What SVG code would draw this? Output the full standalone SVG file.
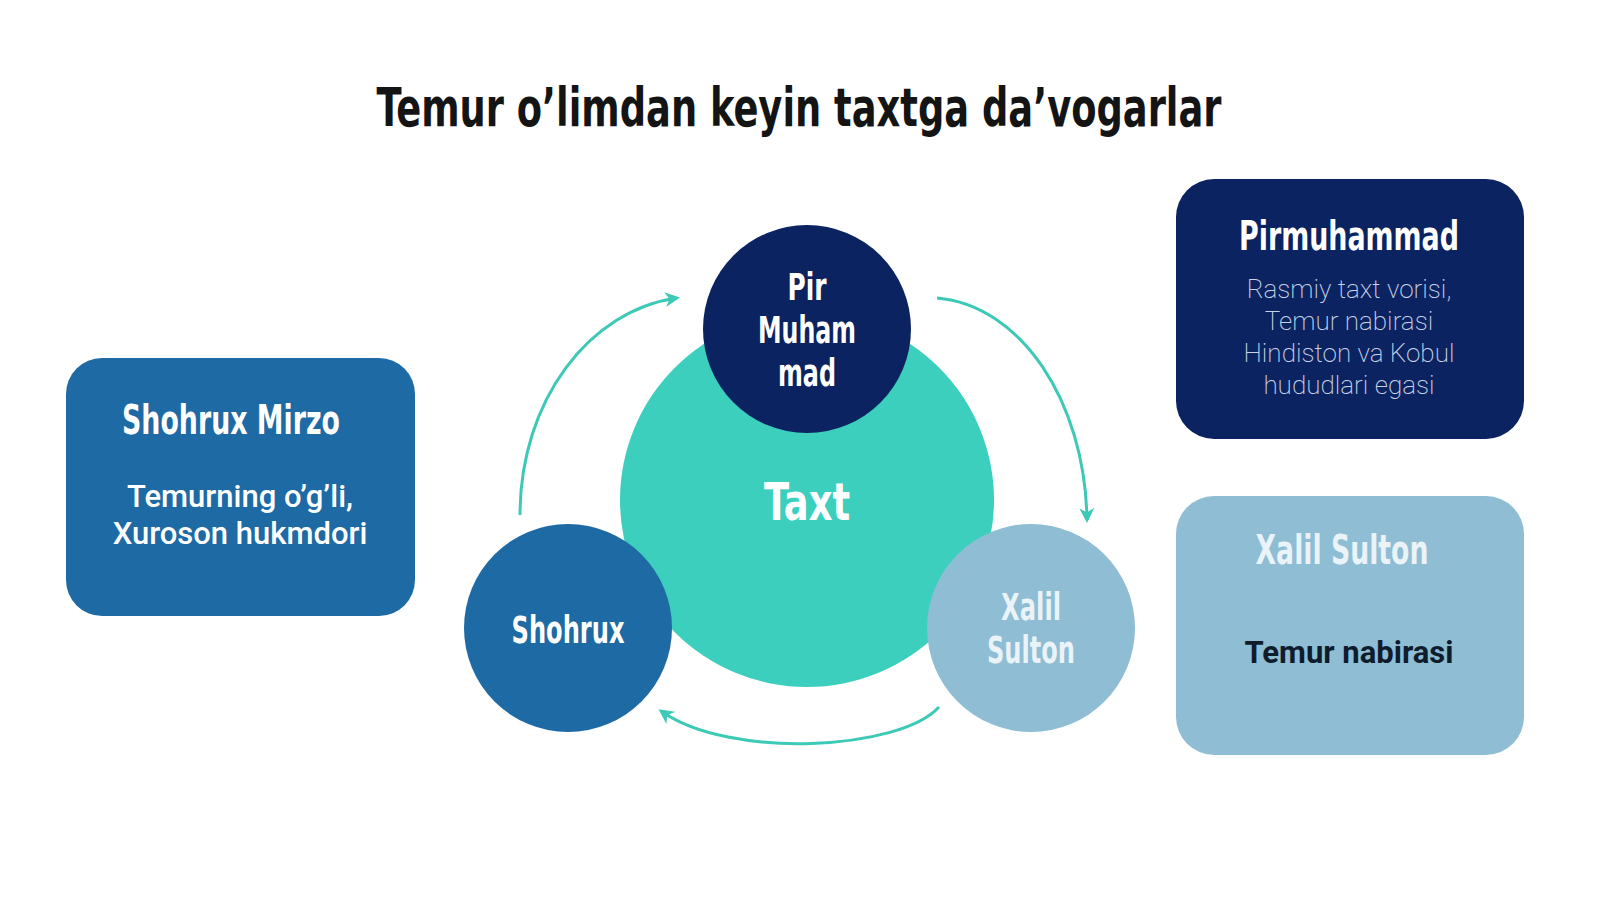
<svg xmlns="http://www.w3.org/2000/svg" width="1600" height="900" viewBox="0 0 1600 900">
<style>
.cond{font-family:"Liberation Sans Narrow","DejaVu Sans Condensed","Liberation Sans",sans-serif;font-weight:bold;text-anchor:middle}
.body{font-family:Roboto,"Liberation Sans",sans-serif;text-anchor:middle}
.arc{fill:none;stroke:#3cc9b6;stroke-width:3;marker-end:url(#ah)}
</style>
<defs>
<marker id="ah" viewBox="0 0 10 10" refX="8" refY="5" markerWidth="5" markerHeight="5" orient="auto" markerUnits="strokeWidth">
<path d="M0,0 L10,5 L0,10 L3,5 Z" fill="#3cc9b6"/>
</marker>
</defs>
<rect width="1600" height="900" fill="#ffffff"/>
<text id="title" class="cond" x="799" y="126" font-size="54" fill="#141414" textLength="845" lengthAdjust="spacingAndGlyphs">Temur o’limdan keyin taxtga da’vogarlar</text>

<g id="connectors">
<path class="arc" d="M520,515 C520,400 590,310 677,298"/>
<path class="arc" d="M937,298 C1020,305 1085,400 1087,520"/>
<path class="arc" d="M939,707 C900,750 730,760 661,711"/>
</g>

<g id="taxt">
<circle cx="807" cy="500" r="187" fill="#3ccfbe"/>
<text class="cond" x="807" y="520" font-size="51" fill="#ffffff" textLength="86" lengthAdjust="spacingAndGlyphs">Taxt</text>
</g>

<g id="pir-circle">
<circle cx="807" cy="329" r="104" fill="#0c2361"/>
<text class="cond" x="807" y="300" font-size="37" fill="#ffffff" textLength="39" lengthAdjust="spacingAndGlyphs">Pir</text>
<text class="cond" x="807" y="343" font-size="37" fill="#ffffff" textLength="98" lengthAdjust="spacingAndGlyphs">Muham</text>
<text class="cond" x="807" y="386" font-size="37" fill="#ffffff" textLength="58" lengthAdjust="spacingAndGlyphs">mad</text>
</g>

<g id="shohrux-circle">
<circle cx="568" cy="628" r="104" fill="#1e6aa4"/>
<text class="cond" x="568" y="643" font-size="37" fill="#ffffff" textLength="113" lengthAdjust="spacingAndGlyphs">Shohrux</text>
</g>

<g id="xalil-circle">
<circle cx="1031" cy="628" r="104" fill="#8ebdd4"/>
<text class="cond" x="1031" y="620" font-size="37" fill="#eaf3f8" textLength="60" lengthAdjust="spacingAndGlyphs">Xalil</text>
<text class="cond" x="1031" y="663" font-size="37" fill="#eaf3f8" textLength="88" lengthAdjust="spacingAndGlyphs">Sulton</text>
</g>

<g id="shohrux-box">
<rect x="66" y="358" width="349" height="258" rx="36" fill="#1e6aa4"/>
<text class="cond" x="231" y="434" font-size="41" fill="#ffffff" textLength="218" lengthAdjust="spacingAndGlyphs">Shohrux Mirzo</text>
<text class="body" x="240" y="507" font-size="31" font-weight="500" fill="#ffffff">Temurning o’g’li,</text>
<text class="body" x="240" y="544" font-size="31" font-weight="500" fill="#ffffff">Xuroson hukmdori</text>
</g>

<g id="pirmuhammad-box">
<rect x="1176" y="179" width="348" height="260" rx="38" fill="#0c2361"/>
<text class="cond" x="1349" y="250" font-size="41" fill="#ffffff" textLength="220" lengthAdjust="spacingAndGlyphs">Pirmuhammad</text>
<text class="body" x="1349" y="298" font-size="26" font-weight="200" fill="#c9d3e6">Rasmiy taxt vorisi,</text>
<text class="body" x="1349" y="330" font-size="26" font-weight="200" fill="#c9d3e6">Temur nabirasi</text>
<text class="body" x="1349" y="362" font-size="26" font-weight="200" fill="#c9d3e6">Hindiston va Kobul</text>
<text class="body" x="1349" y="394" font-size="26" font-weight="200" fill="#c9d3e6">hududlari egasi</text>
</g>

<g id="xalil-box">
<rect x="1176" y="496" width="348" height="259" rx="38" fill="#8ebdd4"/>
<text class="cond" x="1342" y="564" font-size="41" fill="#eaf3f8" textLength="173" lengthAdjust="spacingAndGlyphs">Xalil Sulton</text>
<text class="body" x="1349" y="663" font-size="31" font-weight="bold" fill="#0f1c2c">Temur nabirasi</text>
</g>
</svg>
